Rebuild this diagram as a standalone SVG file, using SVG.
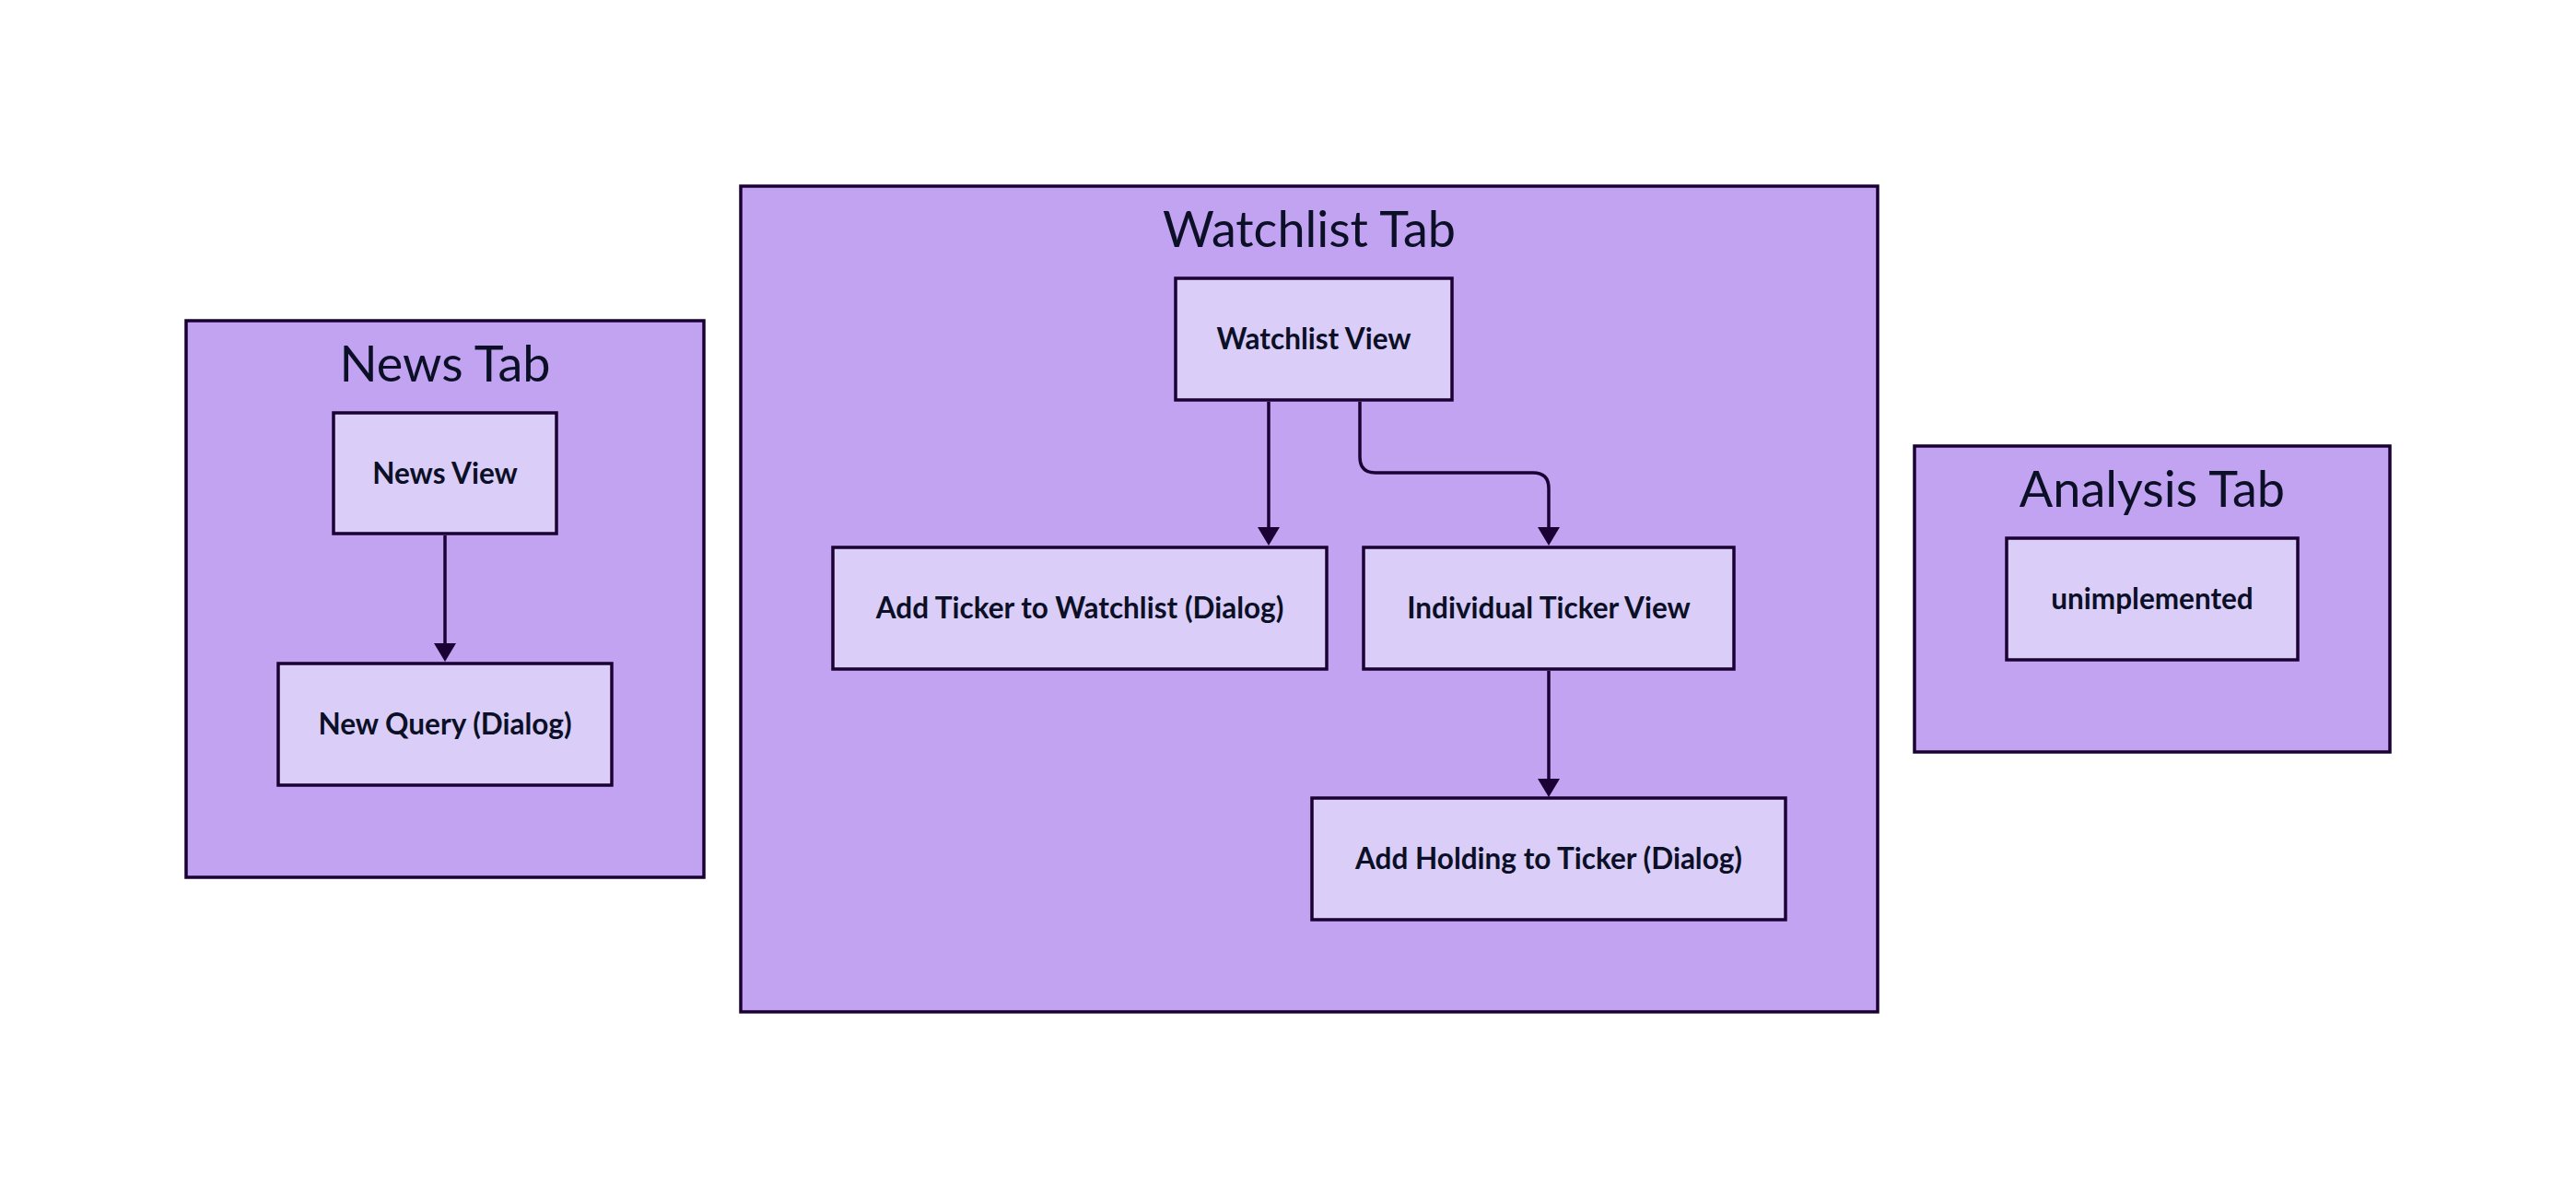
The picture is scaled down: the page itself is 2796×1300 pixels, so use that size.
<svg xmlns="http://www.w3.org/2000/svg" width="2796" height="1300" viewBox="0 0 2796 1300">
<style>
.cluster{fill:#c2a3f1;stroke:#1a0033;stroke-width:3.5}
.node{fill:#dacef9;stroke:#1a0033;stroke-width:3.5}
.ctitle{font-family:Lato,"Liberation Sans",sans-serif;font-size:54px;fill:#0b1026;text-anchor:middle}
.nlabel{font-family:Lato,"Liberation Sans",sans-serif;font-size:31.5px;font-weight:bold;fill:#0b1026;text-anchor:middle}
.edge{fill:none;stroke:#1a0033;stroke-width:3.5}
</style>
<defs>
<marker id="arrow" markerUnits="userSpaceOnUse" markerWidth="20" markerHeight="24" viewBox="0 0 20 24" refX="0" refY="12" orient="auto">
<path d="M0,0 L20,12 L0,24 Z" fill="#1a0033"/>
</marker>
</defs>
<rect width="2796" height="1300" fill="#ffffff"/>
<g id="news-tab">
<rect class="cluster" x="202" y="348" width="562" height="604"/>
<text class="ctitle" x="483" y="414">News Tab</text>
</g>
<g id="watchlist-tab">
<rect class="cluster" x="804" y="202" width="1234" height="896"/>
<text class="ctitle" x="1421" y="268">Watchlist Tab</text>
</g>
<g id="analysis-tab">
<rect class="cluster" x="2078" y="484" width="516" height="332"/>
<text class="ctitle" x="2336" y="550">Analysis Tab</text>
</g>
<g id="news-view">
<rect class="node" x="362" y="448" width="242" height="131"/>
<text class="nlabel" x="483" y="525">News View</text>
</g>
<g id="new-query">
<rect class="node" x="302" y="720" width="362" height="132"/>
<text class="nlabel" x="483" y="797">New Query (Dialog)</text>
</g>
<g id="watchlist-view">
<rect class="node" x="1276" y="302" width="300" height="132"/>
<text class="nlabel" x="1426" y="379">Watchlist View</text>
</g>
<g id="add-ticker">
<rect class="node" x="904" y="594" width="536" height="132"/>
<text class="nlabel" x="1172" y="671">Add Ticker to Watchlist (Dialog)</text>
</g>
<g id="individual-ticker">
<rect class="node" x="1480" y="594" width="402" height="132"/>
<text class="nlabel" x="1681" y="671">Individual Ticker View</text>
</g>
<g id="add-holding">
<rect class="node" x="1424" y="866" width="514" height="132"/>
<text class="nlabel" x="1681" y="943">Add Holding to Ticker (Dialog)</text>
</g>
<g id="unimplemented">
<rect class="node" x="2178" y="584" width="316" height="132"/>
<text class="nlabel" x="2336" y="661">unimplemented</text>
</g>
<g id="connectors">
<path class="edge" d="M483,581 V698" marker-end="url(#arrow)"/>
<path class="edge" d="M1377,436 V572" marker-end="url(#arrow)"/>
<path class="edge" d="M1476,436 V496 Q1476,513 1493,513 H1664 Q1681,513 1681,530 V572" marker-end="url(#arrow)"/>
<path class="edge" d="M1681,728 V845" marker-end="url(#arrow)"/>
</g>
</svg>
